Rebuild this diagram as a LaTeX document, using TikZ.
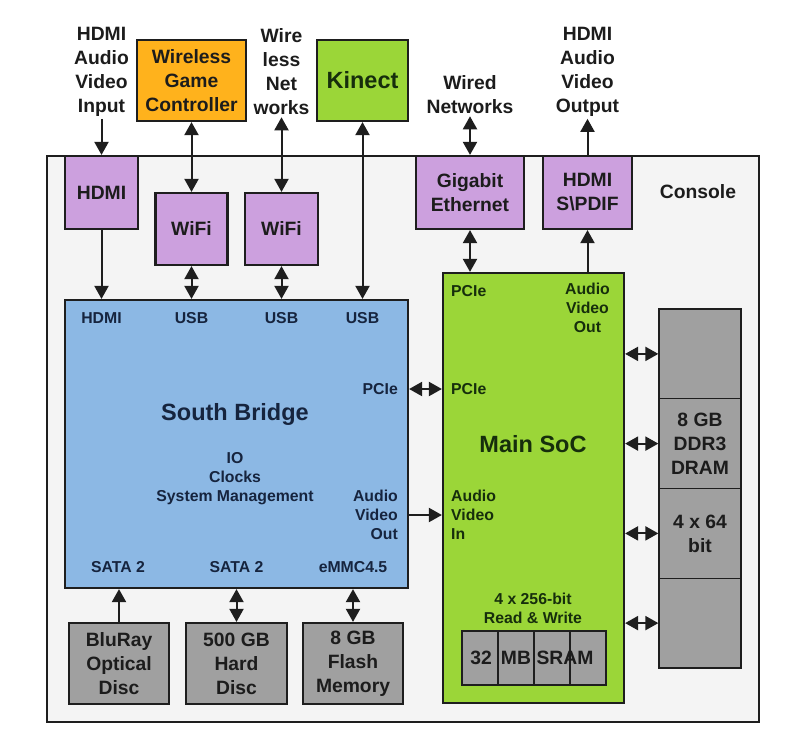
\documentclass[tikz,border=0pt]{standalone}
\usepackage{fontspec}
\setmainfont{Liberation Sans}
\usetikzlibrary{arrows.meta}
\definecolor{consolefill}{RGB}{244,244,244}
\definecolor{lineclr}{RGB}{30,30,30}
\definecolor{purp}{RGB}{204,160,222}
\definecolor{orng}{RGB}{255,178,28}
\definecolor{grn}{RGB}{155,214,56}
\definecolor{blu}{RGB}{140,184,228}
\definecolor{gry}{RGB}{160,160,160}
\definecolor{navytxt}{RGB}{22,36,62}
\definecolor{grntxt}{RGB}{22,46,12}
\definecolor{blktxt}{RGB}{28,28,28}
\newcommand\bigfnt{\fontsize{19.3}{24}\selectfont\bfseries}
\newcommand\smfnt{\fontsize{15.8}{19}\selectfont\bfseries}
\newcommand\hugefnt{\fontsize{23.5}{26}\selectfont\bfseries}
\begin{document}
\begin{tikzpicture}[x=1pt,y=-1pt,
  box/.style={draw=lineclr, line width=2.2pt, inner sep=0pt, align=center, font=\bigfnt, text=blktxt},
  thinbox/.style={draw=lineclr, line width=1.3pt, inner sep=0pt, fill=gry, align=center, font=\bigfnt, text=blktxt},
  lbl/.style={inner sep=2pt, align=center, font=\bigfnt, text=blktxt},
  sblbl/.style={inner sep=0pt, align=center, font=\smfnt, text=navytxt},
  soclbl/.style={inner sep=0pt, align=center, font=\smfnt, text=grntxt},
  one/.style={line width=2pt, draw=lineclr, -{Triangle[length=13pt,width=14pt]}},
  two/.style={line width=2pt, draw=lineclr, {Triangle[length=13pt,width=14pt]}-{Triangle[length=13pt,width=14pt]}}]
\useasboundingbox (0,0) rectangle (800,753);
\fill[white] (0,0) rectangle (800,753);

% console
\node[draw=lineclr, fill=consolefill, line width=2pt, minimum width=712pt, minimum height=566pt, inner sep=0pt] (console) at (403,439) {};
\node[lbl] (consolelbl) at (698,192) {Console};

% outer items
\node[lbl] (hdmiin) at (101.5,72) {HDMI\\Audio\\Video\\Input};
\node[box, fill=orng, minimum width=109pt, minimum height=81pt] (ctrl) at (191.5,80.5) {Wireless\\Game\\Controller};
\node[lbl] (wlnet) at (281.5,72) {Wire\\less\\Net\\works};
\node[box, fill=grn, minimum width=91pt, minimum height=81pt, font=\hugefnt, text=grntxt] (kinect) at (362.5,80.5) {Kinect};
\node[lbl] (wired) at (470,95) {Wired\\Networks};
\node[lbl] (hdmiout) at (587.5,72) {HDMI\\Audio\\Video\\Output};

% purple boxes
\node[box, fill=purp, minimum width=73pt, minimum height=73pt] (hdmi) at (101.5,192.5) {HDMI};
\node[box, fill=purp, minimum width=72pt, minimum height=72pt] (wifia) at (191.5,229) {WiFi};
\node[box, fill=purp, minimum width=73pt, minimum height=72pt] (wifib) at (281.5,229) {WiFi};
\node[box, fill=purp, minimum width=108pt, minimum height=73pt] (gige) at (470,192.5) {Gigabit\\Ethernet};
\node[box, fill=purp, minimum width=89pt, minimum height=73pt] (spdif) at (587.5,192.5) {HDMI\\S\textbackslash PDIF};

% south bridge
\node[box, fill=blu, minimum width=343pt, minimum height=288pt] (sb) at (236.5,444) {};
\node[sblbl] (sbhdmi) at (101.5,318) {HDMI};
\node[sblbl] (sbusba) at (191.5,318) {USB};
\node[sblbl] (sbusbb) at (281.5,318) {USB};
\node[sblbl] (sbusbc) at (362.5,318) {USB};
\node[sblbl, anchor=east] (sbpcie) at (398,389) {PCIe};
\node[sblbl, anchor=east, align=right] (sbav) at (398,515) {Audio\\Video\\Out};
\node[sblbl, font=\hugefnt] (sbtitle) at (235,414) {South Bridge};
\node[sblbl] (sbio) at (235,479) {IO\\Clocks\\System Management};
\node[sblbl] (sata) at (118,567) {SATA 2};
\node[sblbl] (satb) at (236.5,567) {SATA 2};
\node[sblbl] (emmc) at (353,567) {eMMC4.5};

% main soc
\node[box, fill=grn, minimum width=181pt, minimum height=430pt] (soc) at (533.5,488) {};
\node[soclbl, anchor=west] (socpcieb) at (451,291) {PCIe};
\node[soclbl] (socavout) at (587.5,308) {Audio\\Video\\Out};
\node[soclbl, anchor=west] (socpcie) at (451,389) {PCIe};
\node[soclbl, font=\hugefnt] (soctitle) at (533,444) {Main SoC};
\node[soclbl, anchor=west, align=left] (socavin) at (451,515) {Audio\\Video\\In};
\node[soclbl] (socrw) at (533,608) {4 x 256-bit\\Read \& Write};
\node[thinbox, minimum width=36pt, minimum height=54pt] (srama) at (480,658) {};
\node[thinbox, minimum width=36pt, minimum height=54pt] (sramb) at (516,658) {};
\node[thinbox, minimum width=36pt, minimum height=54pt] (sramc) at (552,658) {};
\node[thinbox, minimum width=36pt, minimum height=54pt] (sramd) at (588,658) {};
\node[lbl, inner sep=0pt] (sramt1) at (481,658) {32};
\node[lbl, inner sep=0pt] (sramt2) at (516,658) {MB};
\node[lbl, inner sep=0pt] (sramt3) at (565,658) {SRAM};

% DRAM
\node[thinbox, minimum width=82pt, minimum height=89.75pt] (drama) at (700,353.9) {};
\node[thinbox, minimum width=82pt, minimum height=89.75pt] (dramb) at (700,443.6) {8 GB\\DDR3\\DRAM};
\node[thinbox, minimum width=82pt, minimum height=89.75pt] (dramc) at (700,533.4) {4 x 64\\bit};
\node[thinbox, minimum width=82pt, minimum height=89.75pt] (dramd) at (700,623.1) {};
\node[box, minimum width=82pt, minimum height=359pt] (dram) at (700,488.5) {};

% storage
\node[box, fill=gry, minimum width=100pt, minimum height=81pt] (bluray) at (119,663.5) {BluRay\\Optical\\Disc};
\node[box, fill=gry, minimum width=101pt, minimum height=81pt] (hdd) at (236.5,663.5) {500 GB\\Hard\\Disc};
\node[box, fill=gry, minimum width=100pt, minimum height=81pt] (flash) at (353,663.5) {8 GB\\Flash\\Memory};

% connectors
\draw[one] (hdmiin.south) -- (hdmi.north);
\draw[two] (ctrl.south) -- (wifia.north);
\draw[two] (wlnet.south) -- (wifib.north);
\draw[two] (kinect.south) -- (kinect.south |- sb.north);
\draw[one] (hdmi.south) -- (hdmi.south |- sb.north);
\draw[two] (wifia.south) -- (wifia.south |- sb.north);
\draw[two] (wifib.south) -- (wifib.south |- sb.north);
\draw[two] (wired.south) -- (gige.north);
\draw[two] (gige.south) -- (gige.south |- soc.north);
\draw[one] (spdif.north) -- (hdmiout.south);
\draw[one] (spdif.south |- soc.north) -- (spdif.south);
\draw[two] (sbpcie.east -| sb.east) -- (sbpcie.east -| soc.west);
\draw[one] (sbav.east -| sb.east) -- (sbav.east -| soc.west);
\draw[one] (bluray.north) -- (bluray.north |- sb.south);
\draw[two] (hdd.north) -- (hdd.north |- sb.south);
\draw[two] (flash.north) -- (flash.north |- sb.south);
\draw[two] (drama.west -| soc.east) -- (drama.west);
\draw[two] (dramb.west -| soc.east) -- (dramb.west);
\draw[two] (dramc.west -| soc.east) -- (dramc.west);
\draw[two] (dramd.west -| soc.east) -- (dramd.west);
\end{tikzpicture}
\end{document}
